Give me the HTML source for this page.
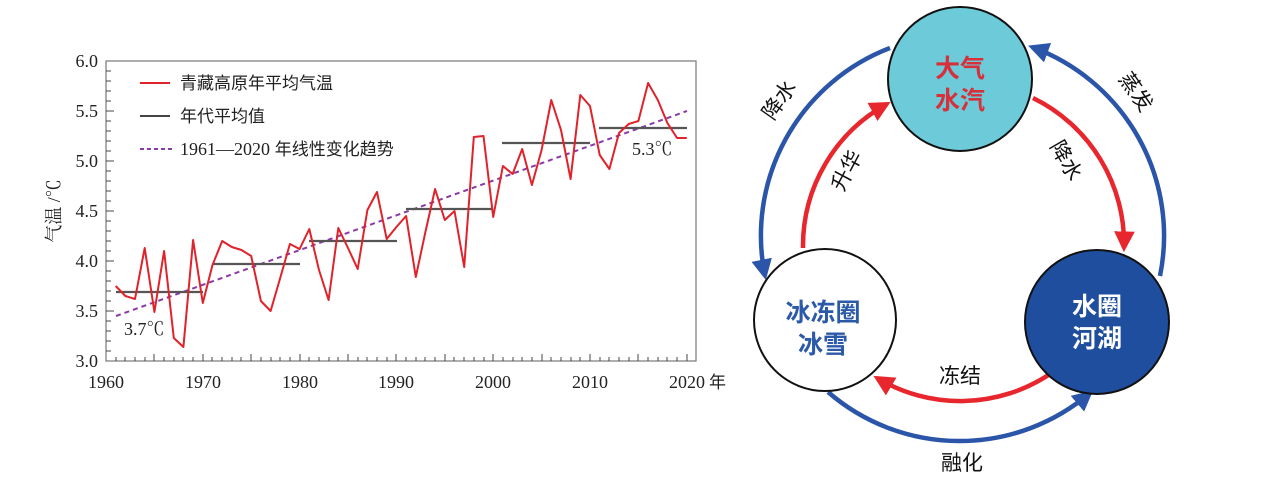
<!DOCTYPE html>
<html><head><meta charset="utf-8"><style>
html,body{margin:0;padding:0;background:#fff;width:1270px;height:477px;overflow:hidden}
svg{display:block}
.ser{font-family:"Liberation Serif","Noto Serif CJK SC",serif;font-size:18px;fill:#222}
.cjk{font-family:"Liberation Sans","Noto Sans CJK SC",sans-serif;font-size:17px;fill:#222}
.lab{font-family:"Liberation Sans","Noto Sans CJK SC",sans-serif;font-size:21px;fill:#111}
.big{font-family:"Liberation Sans","Noto Sans CJK SC",sans-serif;font-size:25px;font-weight:bold}
</style></head><body>
<svg width="1270" height="477" viewBox="0 0 1270 477" xmlns="http://www.w3.org/2000/svg">
<defs>
<marker id="ab" viewBox="0 0 10 10" refX="8" refY="5" markerWidth="4.6" markerHeight="4.6" orient="auto" markerUnits="strokeWidth"><path d="M0,0 L10,5 L0,10 z" fill="#2b55a8"/></marker>
<marker id="ar" viewBox="0 0 10 10" refX="8" refY="5" markerWidth="4.6" markerHeight="4.6" orient="auto" markerUnits="strokeWidth"><path d="M0,0 L10,5 L0,10 z" fill="#e8262d"/></marker>
</defs>
<rect x="106" y="61" width="590" height="300" fill="none" stroke="#777" stroke-width="1.2"/>
<g stroke="#444" stroke-width="1">
<path d="M106,71h5M106,81h5M106,91h5M106,101h5M106,111h8M106,121h5M106,131h5M106,141h5M106,151h5M106,161h8M106,171h5M106,181h5M106,191h5M106,201h5M106,211h8M106,221h5M106,231h5M106,241h5M106,251h5M106,261h8M106,271h5M106,281h5M106,291h5M106,301h5M106,311h8M106,321h5M106,331h5M106,341h5M106,351h5"/>
</g>
<g class="ser" text-anchor="end">
<text x="98" y="67">6.0</text><text x="98" y="117">5.5</text><text x="98" y="167">5.0</text><text x="98" y="217">4.5</text><text x="98" y="267">4.0</text><text x="98" y="317">3.5</text><text x="98" y="367">3.0</text>
</g>
<g class="ser" text-anchor="middle">
<text x="106" y="388">1960</text><text x="203" y="388">1970</text><text x="300" y="388">1980</text><text x="396" y="388">1990</text><text x="493" y="388">2000</text><text x="590" y="388">2010</text><text x="687" y="388">2020</text>
</g>
<text x="709" y="388" class="cjk" font-size="18">年</text>
<text transform="translate(60,211) rotate(-90)" class="ser" text-anchor="middle" font-size="17">气温 /℃</text>
<line x1="140" y1="83" x2="170" y2="83" stroke="#e0222b" stroke-width="2"/>
<text x="180" y="89" class="cjk">青藏高原年平均气温</text>
<line x1="140" y1="116" x2="170" y2="116" stroke="#444" stroke-width="2"/>
<text x="180" y="122" class="cjk">年代平均值</text>
<line x1="140" y1="149" x2="172" y2="149" stroke="#8a3aa6" stroke-width="2" stroke-dasharray="4,3"/>
<text x="180" y="155" class="cjk"><tspan class="ser">1961—2020</tspan> 年线性变化趋势</text>
<line x1="116" y1="316" x2="687" y2="111" stroke="#8a3aa6" stroke-width="2" stroke-dasharray="5,4"/>
<g stroke="#555" stroke-width="2.2">
<line x1="116" y1="292" x2="203" y2="292"/><line x1="213" y1="264" x2="300" y2="264"/><line x1="309" y1="241" x2="397" y2="241"/><line x1="406" y1="209" x2="493" y2="209"/><line x1="502" y1="143" x2="590" y2="143"/><line x1="599" y1="128" x2="687" y2="128"/>
</g>
<polyline fill="none" stroke="#e0222b" stroke-width="2" stroke-linejoin="round" points="115.7,286 125.4,296 135,299 144.7,248 154.4,312 164.1,251 173.8,338 183.4,347 193.1,240 202.8,303 212.5,265 222.2,241 231.8,247 241.5,250 251.2,256 260.9,301 270.6,311 280.2,278 289.9,244 299.6,249 309.3,229 319,270 328.6,300 338.3,228 348,248 357.7,269 367.4,210 377,192 386.7,239 396.4,227 406.1,216 415.8,277 425.4,232 435.1,189 444.8,220 454.5,211 464.2,267 473.8,137 483.5,136 493.2,217 502.9,166 512.6,174 522.2,149 531.9,185 541.6,150 551.3,100 561,130 570.6,179 580.3,95 590,106 599.7,155 609.4,169 619,133 628.7,124 638.4,121 648.1,83 657.8,100 667.4,123 677.1,138 686.8,138"/>
<text x="124" y="335" class="ser" font-size="17">3.7℃</text>
<text x="632" y="155" class="ser" font-size="17">5.3℃</text>
<g fill="none" stroke-width="4.5">
<path d="M890,48 A201,201 0 0 0 765,276" stroke="#2b55a8" marker-end="url(#ab)"/>
<path d="M1160,276 A201,201 0 0 0 1032,47" stroke="#2b55a8" marker-end="url(#ab)"/>
<path d="M828,392 A201,201 0 0 0 1090,393" stroke="#2b55a8" marker-end="url(#ab)"/>
<path d="M803,248 A162,162 0 0 1 887,104" stroke="#e8262d" marker-end="url(#ar)"/>
<path d="M1033,98 A162,162 0 0 1 1124,248" stroke="#e8262d" marker-end="url(#ar)"/>
<path d="M1050,374 A162,162 0 0 1 877,378" stroke="#e8262d" marker-end="url(#ar)"/>
</g>
<circle cx="960" cy="79" r="72" fill="#6dcad9" stroke="#111" stroke-width="2"/>
<circle cx="825" cy="320" r="71" fill="#fff" stroke="#111" stroke-width="2"/>
<circle cx="1097" cy="322" r="72" fill="#1f4e9e" stroke="#111" stroke-width="2"/>
<g class="big" text-anchor="middle">
<text x="960" y="77" fill="#d6303a">大气</text><text x="960" y="109" fill="#d6303a">水汽</text>
<text x="823" y="321" fill="#2c5aa8">冰冻圈</text><text x="823" y="353" fill="#2c5aa8">冰雪</text>
<text x="1097" y="315" fill="#fff">水圈</text><text x="1097" y="347" fill="#fff">河湖</text>
</g>
<g class="lab" text-anchor="middle">
<text transform="translate(785,104) rotate(-55)">降水</text>
<text transform="translate(1130,96) rotate(55)">蒸发</text>
<text transform="translate(853,174) rotate(-62)">升华</text>
<text transform="translate(1060,164) rotate(60)">降水</text>
<text x="960" y="383">冻结</text>
<text x="962" y="470">融化</text>
</g>
<g stroke="#444" stroke-width="1">
<path d="M116,361v-4M125,361v-4M135,361v-4M145,361v-4M154,361v-7M164,361v-4M174,361v-4M183,361v-4M193,361v-4M203,361v-7M212,361v-4M222,361v-4M232,361v-4M241,361v-4M251,361v-7M261,361v-4M271,361v-4M280,361v-4M290,361v-4M300,361v-7M309,361v-4M319,361v-4M329,361v-4M338,361v-4M348,361v-7M358,361v-4M367,361v-4M377,361v-4M387,361v-4M396,361v-7M406,361v-4M416,361v-4M425,361v-4M435,361v-4M445,361v-7M454,361v-4M464,361v-4M474,361v-4M484,361v-4M493,361v-7M503,361v-4M513,361v-4M522,361v-4M532,361v-4M542,361v-7M551,361v-4M561,361v-4M571,361v-4M580,361v-4M590,361v-7M600,361v-4M609,361v-4M619,361v-4M629,361v-4M638,361v-7M648,361v-4M658,361v-4M667,361v-4M677,361v-4M687,361v-7"/>
</g>
</svg>
</body></html>
